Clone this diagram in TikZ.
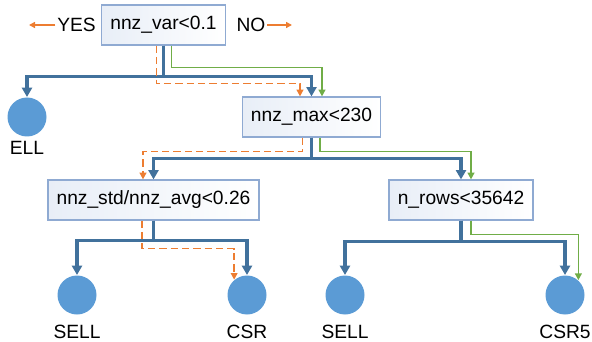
\documentclass[tikz,border=0pt]{standalone}
\usepackage{fontspec}
\setmainfont{Liberation Sans}
\usetikzlibrary{arrows.meta,calc,positioning}

\definecolor{boxline}{RGB}{143,170,210}
\definecolor{boxfill}{RGB}{232,238,247}
\definecolor{leaffill}{RGB}{91,155,213}
\definecolor{treeblue}{RGB}{65,113,156}
\definecolor{yesorange}{RGB}{237,125,49}
\definecolor{nogreen}{RGB}{112,173,71}

\tikzset{every picture/.style={line width=0.75pt}}
\tikzset{
  testbox/.style={draw=boxline, line width=0.9pt, left color=boxfill, right color=white,
    inner xsep=6.5pt, minimum height=30pt, font=\fontsize{14.4}{17}\selectfont},
  leaf/.style={circle, fill=leaffill, draw=none, minimum size=29.25pt, inner sep=0pt},
  leaftext/.style={inner sep=0pt, font=\fontsize{14.4}{17}\selectfont},
  sidetext/.style={inner sep=1pt, font=\fontsize{14.4}{17}\selectfont},
  branch/.style={draw=treeblue, line width=2.4pt, -{Triangle[length=7pt,width=7.5pt]}},
  yespath/.style={draw=yesorange, line width=1.3pt, dash pattern=on 5.5pt off 3pt, -{Triangle[length=5pt,width=5pt]}},
  nopath/.style={draw=nogreen, line width=1.3pt, -{Triangle[length=5pt,width=5pt]}},
  hint/.style={draw=yesorange, line width=1.2pt, -{Triangle[length=4.5pt,width=4.5pt]}}
}

\begin{document}
\begin{tikzpicture}[x=0.75pt,y=0.75pt,yscale=-1,xscale=1]
\useasboundingbox (0,0) rectangle (592,342);

% Test Nodes
\node[testbox] (root) at (163.5,25) {nnz\_var<0.1};
\node[testbox] (nmax) at (311.5,117) {nnz\_max<230};
\node[testbox] (nstd) at (153.5,200) {nnz\_std/nnz\_avg<0.26};
\node[testbox] (nrows) at (461,200) {n\_rows<35642};

%Shape: Circle
\node[leaf] (ell) at (27,117) {};
\node[leaf] (sellA) at (77,295) {};
\node[leaf] (csr) at (247,295) {};
\node[leaf] (sellB) at (345,295) {};
\node[leaf] (csrfive) at (565,295) {};

% Text Node
\node[leaftext, below=3pt of ell] (elltext) {ELL};
\node[leaftext, below=7pt of sellA] (sellAtext) {SELL};
\node[leaftext, below=7pt of csr] (csrtext) {CSR};
\node[leaftext, below=7pt of sellB] (sellBtext) {SELL};
\node[leaftext, below=7pt of csrfive] (csrfivetext) {CSR5};

% YES / NO key
\node[sidetext] (yes) at (76.5,25) {YES};
\node[sidetext] (no) at (251,25) {NO};
\coordinate (yesend) at (29,25);
\coordinate (noend) at (292,25);
\draw[hint] (yes.west) -- (yesend);
\draw[hint] (no.east) -- (noend);

%Straight Lines: tree branches
\draw[branch] (root.south) -- ++(0,31) -| (ell.north);
\draw[branch] (root.south) -- ++(0,31) -| (nmax.north);
\draw[branch] (nmax.south) -- ++(0,21) -| (nstd.north);
\draw[branch] (nmax.south) -- ++(0,21) -| (nrows.north);
\draw[branch] (nstd.south) -- ++(0,20) -| (sellA.north);
\draw[branch] (nstd.south) -- ++(0,20) -| (csr.north);
\draw[branch] (nrows.south) -- ++(0,21) -| (sellB.north);
\draw[branch] (nrows.south) -- ++(0,21) -| (csrfive.north);

%Straight Lines: YES path
\draw[yespath] ($(root.south)+(-7,0)$) -- ++(0,38) -| ($(nmax.north)+(-11.5,0)$);
\draw[yespath] ($(nmax.south)+(-9,0)$) -- ++(0,14) -| ($(nstd.north)+(-10.5,0)$);
\draw[yespath] ($(nstd.south)+(-11.5,0)$) -- ++(0,28) -| (csr.130);

%Straight Lines: NO path
\draw[nopath] ($(root.south)+(8,0)$) -- ++(0,22) -| ($(nmax.north)+(10.5,0)$);
\draw[nopath] ($(nmax.south)+(8.5,0)$) -- ++(0,14) -| ($(nrows.north)+(10,0)$);
\draw[nopath] ($(nrows.south)+(10,0)$) -- ++(0,14) -| (csrfive.48);

\end{tikzpicture}
\end{document}
